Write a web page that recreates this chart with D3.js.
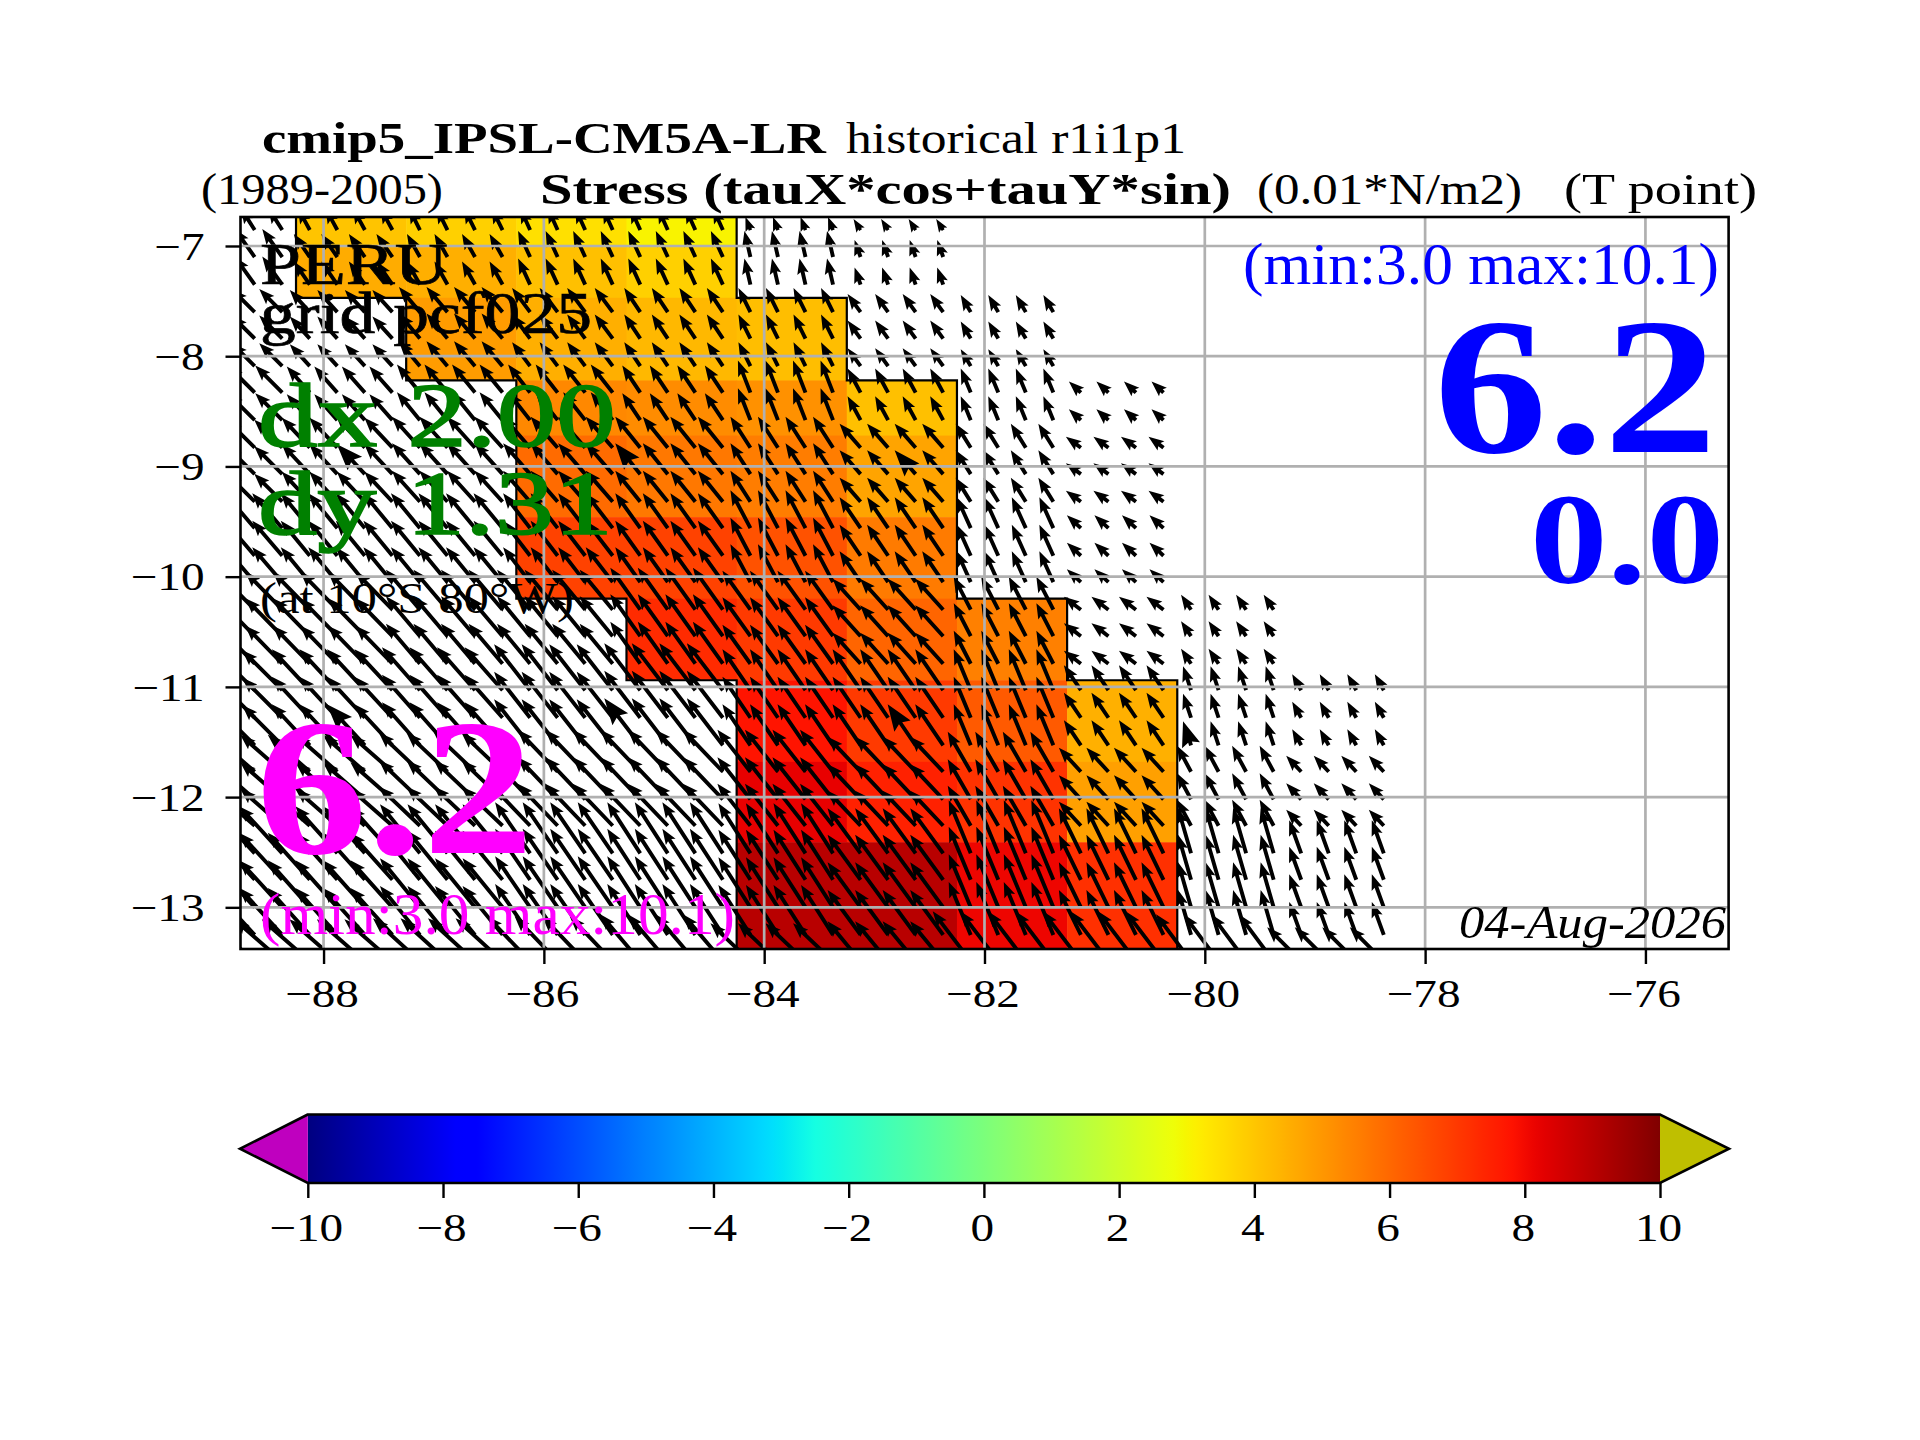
<!DOCTYPE html>
<html>
<head>
<meta charset="utf-8">
<script src="https://d3js.org/d3.v7.min.js"></script>
<style>
    html, body { margin: 0; padding: 0; background: #fff; }
    text { font-family: "Liberation Serif", serif; fill: #000; }
</style>
</head>
<body>
<div id="chart"></div>
<script>
// x / y ticks and colorbar ticks
const lonTicks = [-88, -86, -84, -82, -80, -78, -76];
const latTicks = [-7, -8, -9, -10, -11, -12, -13];
const cbarTicks = [-10, -8, -6, -4, -2, 0, 2, 4, 6, 8, 10];

// edges of the coarse model cells, west to east and north to south
const lonEdges = [-89.25, -88.25, -87.25, -86.25, -85.25, -84.25, -83.25, -82.25, -81.25, -80.25, -79.25, -78.25];
const latEdges = [-6.6, -7.01, -7.47, -8.22, -8.72, -9.46, -10.20, -10.94, -11.68, -12.41, -13.38, -13.6];

// stress along the coast, one row per latitude band (null = no data)
const stress = [
    [null, 4.04, 3.80, 3.46, 3.05, null, null, null, null, null, null],
    [null, 4.56, 4.50, 4.13, 3.80, null, null, null, null, null, null],
    [null, null, 4.90, 4.50, 4.30, 4.17, null, null, null, null, null],
    [null, null, null, 5.32, 5.24, 5.12, 4.13, null, null, null, null],
    [null, null, null, 5.93, 5.66, 5.56, 4.73, null, null, null, null],
    [null, null, null, 6.80, 6.80, 6.47, 5.60, null, null, null, null],
    [null, null, null, null, 7.30, 6.98, 6.07, 5.50, null, null, null],
    [null, null, null, null, null, 7.78, 6.98, 6.30, 4.48, null, null],
    [null, null, null, null, null, 8.20, 7.50, 7.12, 4.82, null, null],
    [null, null, null, null, null, 9.03, 9.03, 8.10, 7.18, null, null],
    [null, null, null, null, null, 9.03, 9.03, 8.10, 7.18, null, null]
];

// where the arrows sit (regridded 0.25 deg points)
const arrowLons = [-88.625, -88.375, -88.125, -87.875, -87.625, -87.375, -87.125, -86.875, -86.625, -86.375,
    -86.125, -85.875, -85.625, -85.375, -85.125, -84.875, -84.625, -84.375, -84.125, -83.875, -83.625, -83.375,
    -83.125, -82.875, -82.625, -82.375, -82.125, -81.875, -81.625, -81.375, -81.125, -80.875, -80.625, -80.375,
    -80.125, -79.875, -79.625, -79.375, -79.125, -78.875, -78.625, -78.375];
const arrowLats = [-6.855, -7.10, -7.35, -7.60, -7.84, -8.09, -8.33, -8.58, -8.83, -9.07, -9.32, -9.56, -9.81, -10.05,
    -10.30, -10.54, -10.79, -11.03, -11.28, -11.53, -11.77, -12.02, -12.26, -12.51, -12.75, -13.00, -13.25, -13.49];

// arrows drawn with the heavier head
const heavyLons = [-87.625, -85.125, -82.625, -80.125];
const heavyLats = [-9.07, -11.53];

// zonal and meridional stress per cell
const tauU = [
    [-2.8, -2.4, -2.2, -2.0, -2.0, -1.0, -1.4, null, null, null, null],
    [-4.0, -3.2, -2.6, -2.4, -2.4, -1.2, -1.2, null, null, null, null],
    [-4.6, -4.0, -4.2, -3.6, -3.2, -2.4, -2.6, -2.0, null, null, null],
    [-5.4, -4.6, -4.6, -4.4, -3.6, -2.5, -2.6, -2.0, -2.4, null, null],
    [-5.6, -5.6, -5.6, -5.4, -5.0, -4.0, -4.2, -3.0, -3.0, null, null],
    [-6.0, -5.8, -5.8, -5.4, -5.0, -4.0, -4.2, -2.8, -2.8, null, null],
    [-7.4, -7.4, -6.8, -6.6, -6.0, -5.6, -5.6, -3.4, -3.4, -2.0, null],
    [-8.0, -7.6, -7.6, -7.2, -7.2, -5.6, -5.6, -3.4, -3.4, -1.6, -1.8],
    [-8.4, -8.4, -8.2, -8.0, -8.0, -6.6, -6.6, -4.6, -4.4, -2.8, -3.0],
    [-8.6, -8.4, -8.0, -7.0, -6.6, -6.4, -6.6, -4.4, -4.4, -2.6, -2.4],
    [-9.6, -9.6, -9.4, -8.6, -8.0, -8.0, -6.6, -7.6, -7.6, -7.0, -6.8]
];
const tauV = [
    [4.4, 4.4, 4.4, 4.4, 4.4, 2.6, 2.2, null, null, null, null],
    [5.6, 4.6, 4.6, 5.2, 5.2, 5.2, 3.4, null, null, null, null],
    [4.6, 4.4, 5.0, 4.8, 4.8, 4.8, 3.6, 3.4, null, null, null],
    [5.4, 5.2, 5.6, 5.6, 5.4, 6.4, 4.8, 4.8, 2.2, null, null],
    [5.6, 6.0, 6.2, 6.2, 6.2, 6.2, 4.8, 4.8, 2.2, null, null],
    [7.0, 7.0, 7.0, 7.0, 7.0, 7.6, 6.2, 6.2, 2.6, null, null],
    [7.6, 7.6, 8.0, 8.0, 8.4, 7.8, 6.2, 6.6, 2.6, 3.0, null],
    [8.0, 8.2, 8.6, 9.2, 9.4, 8.2, 8.2, 8.2, 5.0, 4.8, 3.2],
    [7.4, 7.4, 7.8, 8.4, 8.4, 8.4, 7.0, 8.0, 4.8, 5.2, 3.2],
    [9.4, 9.4, 9.8, 10.2, 10.2, 10.0, 9.0, 10.6, 9.0, 9.0, 6.6],
    [8.4, 8.4, 8.6, 9.0, 9.4, 7.6, 8.0, 10.0, 10.0, 9.4, 6.8]
];

// jet anchor points
const jetR = d3.scaleLinear().domain([0, 0.35, 0.66, 0.89, 1]).range([0, 0, 1, 1, 0.5]);
const jetG = d3.scaleLinear().domain([0, 0.125, 0.375, 0.64, 0.91, 1]).range([0, 0, 1, 1, 0, 0]);
const jetB = d3.scaleLinear().domain([0, 0.11, 0.34, 0.65, 1]).range([0.5, 1, 1, 0, 0]);
function jet(v) {
    let t = (v + 10) / 20;
    return d3.rgb(255 * jetR(t), 255 * jetG(t), 255 * jetB(t)).formatHex();
}

const svg = d3.select("#chart").append("svg")
    .attr("width", 1920)
    .attr("height", 1440)
    .style("display", "block");

const plot = {left: 240.5, right: 1728.6, top: 217, bottom: 949};
const x = d3.scaleLinear().domain([-88.754, -75.245]).range([plot.left, plot.right]);
const y = d3.scaleLinear().domain([-13.378, -6.737]).range([plot.bottom, plot.top]);

svg.append("clipPath").attr("id", "plot-clip").append("rect")
    .attr("x", plot.left).attr("y", plot.top)
    .attr("width", plot.right - plot.left).attr("height", plot.bottom - plot.top);

const inner = svg.append("g").attr("clip-path", "url(#plot-clip)");

// Coloured cells
let cells = [];
stress.forEach((row, r) => row.forEach((v, c) => {
    if (v !== null) cells.push({r: r, c: c, v: v});
}));
inner.append("g").selectAll("rect")
    .data(cells)
    .enter().append("rect")
    .attr("x", d => x(lonEdges[d.c]))
    .attr("y", d => y(latEdges[d.r]))
    .attr("width", d => x(lonEdges[d.c + 1]) - x(lonEdges[d.c]) + 0.5)
    .attr("height", d => y(latEdges[d.r + 1]) - y(latEdges[d.r]) + 0.5)
    .attr("fill", d => jet(d.v));

// Outline of the coloured area
function filled(r, c) {
    return r >= 0 && r < stress.length && c >= 0 && c < stress[0].length && stress[r][c] !== null;
}
let outline = "";
cells.forEach(d => {
    let x0 = x(lonEdges[d.c]), x1 = x(lonEdges[d.c + 1]), y0 = y(latEdges[d.r]), y1 = y(latEdges[d.r + 1]);
    if (!filled(d.r - 1, d.c)) outline += `M${x0},${y0}L${x1},${y0}`;
    if (!filled(d.r + 1, d.c)) outline += `M${x0},${y1}L${x1},${y1}`;
    if (!filled(d.r, d.c - 1)) outline += `M${x0},${y0}L${x0},${y1}`;
    if (!filled(d.r, d.c + 1)) outline += `M${x1},${y0}L${x1},${y1}`;
});
inner.append("path").attr("d", outline).attr("fill", "none")
    .attr("stroke", "#000").attr("stroke-width", 2.2).attr("stroke-linecap", "square");

// Quiver: arrows take the value of the cell they fall in
const pxPerUnit = 5;
let arrows = [];
arrowLats.forEach(lat => arrowLons.forEach(lon => {
    let c = d3.bisectRight(lonEdges, lon) - 1;
    let r = latEdges.findIndex((e, i) => lat <= e && lat > latEdges[i + 1]);
    if (tauU[r][c] === null) return;
    arrows.push({lon: lon, lat: lat, u: tauU[r][c], v: tauV[r][c],
        heavy: heavyLons.includes(lon) && heavyLats.includes(lat)});
}));

function arrowPath(d) {
    let len = Math.hypot(d.u, d.v) * pxPerUnit;
    let w = 1.95, hw = 5.8, hl = 15.5, ha = 13.5;
    let k = d.heavy ? 1.7 : 1;
    if (len < hl * k) k = len / hl;
    let a = hl * k, b = ha * k;
    let s = d.heavy ? w : w * k;
    return `M0,${-s}L${len - b},${-s}L${len - a},${-hw * k}L${len},0` +
        `L${len - a},${hw * k}L${len - b},${s}L0,${s}Z`;
}

inner.append("g").selectAll("path")
    .data(arrows)
    .enter().append("path")
    .attr("d", arrowPath)
    .attr("fill", "#000")
    .attr("transform", d => {
        let angle = Math.atan2(-d.v, d.u) * 180 / Math.PI;
        return "translate(" + x(d.lon) + "," + y(d.lat) + ") rotate(" + angle + ")";
    });

// Grid
const grid = inner.append("g").attr("stroke", "#b0b0b0").attr("stroke-width", 2.7);
grid.selectAll(".gx").data(lonTicks).enter().append("line").attr("class", "gx")
    .attr("x1", d => x(d)).attr("x2", d => x(d))
    .attr("y1", plot.top).attr("y2", plot.bottom);
grid.selectAll(".gy").data(latTicks).enter().append("line").attr("class", "gy")
    .attr("y1", d => y(d)).attr("y2", d => y(d))
    .attr("x1", plot.left).attr("x2", plot.right);

// Axes
function styleAxis(g, size) {
    g.select(".domain").remove();
    g.selectAll(".tick line").attr("stroke", "#000").attr("stroke-width", 2.4);
    g.selectAll(".tick text").attr("font-size", size).attr("fill", "#000")
        .attr("textLength", function() { return this.getComputedTextLength() * 1.18; })
        .attr("lengthAdjust", "spacingAndGlyphs");
}

const intFormat = d3.format("d");

const xAxisG = svg.append("g")
    .attr("transform", "translate(0," + plot.bottom + ")")
    .call(d3.axisBottom(x).tickValues(lonTicks).tickFormat(intFormat).tickSize(15).tickSizeOuter(0));
styleAxis(xAxisG, 40);
xAxisG.selectAll(".tick text").attr("y", 57.7).attr("dy", 0).attr("dx", -2);

const yAxisG = svg.append("g")
    .attr("transform", "translate(" + plot.left + ",0)")
    .call(d3.axisLeft(y).tickValues(latTicks).tickFormat(intFormat).tickSize(15).tickSizeOuter(0));
styleAxis(yAxisG, 40);
yAxisG.selectAll(".tick text").attr("x", -36).attr("dy", "0.33em");

svg.append("rect")
    .attr("x", plot.left).attr("y", plot.top)
    .attr("width", plot.right - plot.left).attr("height", plot.bottom - plot.top)
    .attr("fill", "none").attr("stroke", "#000").attr("stroke-width", 2.6);

// Colorbar
const cbar = {left: 307.8, right: 1660, top: 1114.5, bottom: 1183, tipLeft: 240, tipRight: 1729};
const cx = d3.scaleLinear().domain([-10, 10]).range([cbar.left, cbar.right]);
const cbarStops = d3.range(0, 129).map(i => -10 + 20 * i / 128);
const cbarGrad = svg.append("linearGradient").attr("id", "jet-grad");
cbarGrad.selectAll("stop")
    .data(cbarStops)
    .enter().append("stop")
    .attr("offset", d => (d + 10) / 20)
    .attr("stop-color", d => jet(d));
svg.append("rect")
    .attr("x", cx(-10))
    .attr("y", cbar.top)
    .attr("width", cx(10) - cx(-10))
    .attr("height", cbar.bottom - cbar.top)
    .attr("fill", "url(#jet-grad)");

const cbarMid = (cbar.top + cbar.bottom) / 2;
svg.append("path")
    .attr("d", `M${cbar.left},${cbar.top}L${cbar.tipLeft},${cbarMid}L${cbar.left},${cbar.bottom}Z`)
    .attr("fill", "#bf00bf");
svg.append("path")
    .attr("d", `M${cbar.right},${cbar.top}L${cbar.tipRight},${cbarMid}L${cbar.right},${cbar.bottom}Z`)
    .attr("fill", "#bfbf00");
svg.append("path")
    .attr("d", `M${cbar.left},${cbar.top}L${cbar.tipLeft},${cbarMid}L${cbar.left},${cbar.bottom}` +
        `L${cbar.right},${cbar.bottom}L${cbar.tipRight},${cbarMid}L${cbar.right},${cbar.top}Z`)
    .attr("fill", "none").attr("stroke", "#000").attr("stroke-width", 2.6);

const cAxisG = svg.append("g")
    .attr("transform", "translate(0," + cbar.bottom + ")")
    .call(d3.axisBottom(cx).tickValues(cbarTicks).tickFormat(intFormat).tickSize(15).tickSizeOuter(0));
styleAxis(cAxisG, 40);
cAxisG.selectAll(".tick text").attr("y", 57.7).attr("dy", 0).attr("dx", -2);

// Text, squeezed or stretched to the width it has in the picture
function label(txt, x0, x1, base, size, opts) {
    opts = opts || {};
    let t = svg.append("text")
        .attr("x", x0).attr("y", base)
        .attr("font-size", size)
        .attr("font-weight", opts.bold ? "bold" : "normal")
        .attr("font-style", opts.italic ? "italic" : "normal")
        .attr("textLength", x1 - x0)
        .attr("lengthAdjust", "spacingAndGlyphs")
        .style("fill", opts.color || "#000")
        .text(txt);
    if (opts.thick) t.style("stroke", opts.color || "#000").style("stroke-width", opts.thick);
}

label("cmip5_IPSL-CM5A-LR", 262, 826, 153, 44, {bold: true});
label("historical r1i1p1", 846, 1186, 153, 44);
label("(1989-2005)", 201, 443, 204, 44);
label("Stress (tauX*cos+tauY*sin)", 540, 1231, 204, 44, {bold: true});
label("(0.01*N/m2)", 1257, 1522, 204, 44);
label("(T point)", 1564, 1757, 204, 44);

label("PERU", 260, 448, 284, 59, {thick: 0.7});
label("grid pcf025", 260, 592, 333, 59, {thick: 0.7});
label("dx 2.00", 258, 616, 446, 92, {color: "#008000", thick: 1.6});
label("dy 1.31", 258, 613, 534, 92, {color: "#008000", thick: 1.6});
label("(at 10\u00b0S 80\u00b0W)", 260, 574, 613, 44);
label("6.2", 256, 534, 853, 194, {bold: true, color: "#ff00ff"});
label("(min:3.0 max:10.1)", 260, 735, 934, 59, {color: "#ff00ff"});

label("(min:3.0 max:10.1)", 1243, 1719, 284, 59, {color: "#0000ff"});
label("6.2", 1434, 1717, 452, 194, {bold: true, color: "#0000ff"});
label("0.0", 1530, 1724, 583, 130, {bold: true, color: "#0000ff"});
label("04-Aug-2026", 1459, 1726, 938, 46, {italic: true});
</script>
</body>
</html>
